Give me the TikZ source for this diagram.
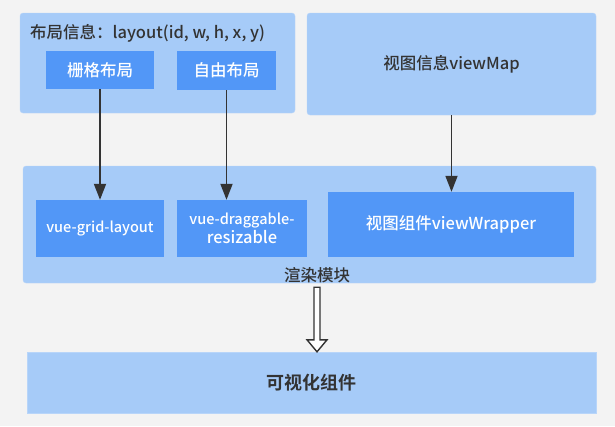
\documentclass[tikz,border=0pt]{standalone}
\usepackage{fontspec}
\setmainfont{Noto Sans CJK SC}[UprightFont={* Medium}, BoldFont={* Bold}]
\usepackage{xcolor}
\usetikzlibrary{arrows.meta,calc}
\definecolor{lightpanel}{HTML}{A6CBF8}
\definecolor{darkpanel}{HTML}{5297F7}
\definecolor{backdrop}{HTML}{F3F3F3}
\definecolor{inktext}{HTML}{333333}

\begin{document}
\begin{tikzpicture}[x=1pt, y=-1pt, font=\fontsize{16.5}{19}\selectfont,
    panel/.style={fill=lightpanel, draw=lightpanel!80!white, rounded corners=3pt, inner sep=0pt, text=inktext},
    block/.style={fill=darkpanel, text=white, inner sep=0pt, align=center},
    link/.style={draw=inktext, line width=1.8pt, -{Triangle[length=16pt, width=12pt]}}]
        % Canvas
        \fill[backdrop] (0,0) rectangle (615,426);
        \useasboundingbox (0,0) rectangle (615,426);

        % Panels
        \node[panel, minimum width=275pt, minimum height=100pt] (layout) at (157.5,63) {};
        \node[anchor=west, text=inktext, inner sep=0pt] (layouttitle) at (30,33) {布局信息：layout(id, w, h, x, y)};
        \node[panel, minimum width=289pt, minimum height=102pt] (viewmap) at (451.5,64) {视图信息viewMap};
        \node[panel, minimum width=573pt, minimum height=117pt] (render) at (309.5,224.5) {};
        \node[text=inktext, inner sep=0pt] (rendertitle) at (317,275) {渲染模块};
        \node[panel, rounded corners=0pt, minimum width=569pt, minimum height=61pt, font=\fontsize{18}{21}\selectfont\bfseries] (widget) at (311.5,382.5) {可视化组件};

        % Blocks
        \foreach \name/\x/\y/\w/\h/\txt in {gridbox/100/70/108/38/栅格布局, freebox/226.5/70.5/99/39/自由布局, gridlayout/100/228.5/128/57/{\fontsize{14.5}{17}\selectfont vue-grid-layout}, draggable/242/228.5/130/57/{\fontsize{14.5}{17}\selectfont vue-draggable-\\resizable}, wrapper/451/224.5/246/65/视图组件viewWrapper} {
            \node[block, minimum width=\w pt, minimum height=\h pt] (\name) at (\x,\y) {\txt};
        }

        % Links
        \draw[link] (gridbox.south) -- (gridlayout.north);
        \draw[link] (freebox.south) -- (freebox.south |- draggable.north);
        \draw[link] (viewmap.south) -- (viewmap.south |- wrapper.north);

        % Render output
        \draw[inktext, fill=white, line width=1.4pt] let \p1=(rendertitle.south |- render.south), \p2=(widget.north) in
            (\x1-3pt,\y1-4pt) -- (\x1-3pt,\y2+12pt) -- (\x1-10pt,\y2+12pt) -- (\x1,\y2) -- (\x1+10pt,\y2+12pt) -- (\x1+3pt,\y2+12pt) -- (\x1+3pt,\y1-4pt) -- cycle;
    \end{tikzpicture}
\end{document}
